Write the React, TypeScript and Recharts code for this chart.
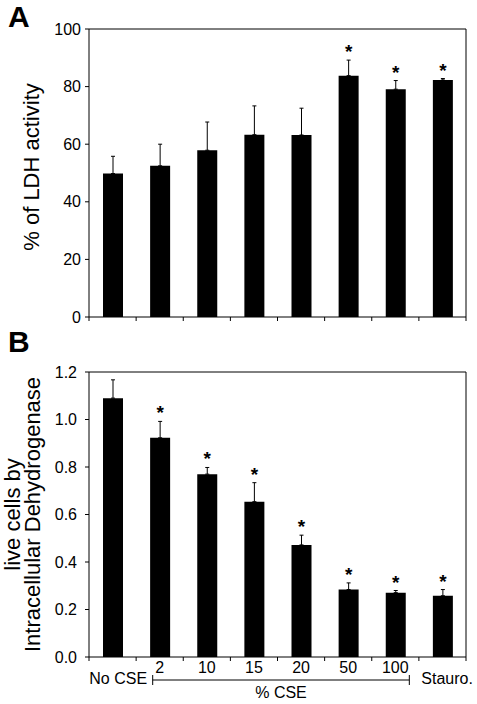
import { BarChart, Bar, XAxis, YAxis, CartesianGrid, ErrorBar, LabelList, Label } from 'recharts'

const FONT = '"Liberation Sans", Arial, Helvetica, sans-serif'

// shared categories (bottom axis of panel B)
const groups = ['No CSE', '2', '10', '15', '20', '50', '100', 'Stauro.']
const doseTitle = '% CSE'

// panel A: LDH release
const ldhMean = [49.8, 52.5, 57.9, 63.3, 63.2, 83.8, 79.1, 82.3]
const ldhErr = [6.0, 7.5, 9.8, 10.0, 9.3, 5.4, 3.0, 0.5]
const ldhSig = [false, false, false, false, false, true, true, true]
const ldhTicks = [0, 20, 40, 60, 80, 100]

// panel B: live cells
const liveMean = [1.09, 0.923, 0.77, 0.654, 0.472, 0.284, 0.271, 0.258]
const liveErr = [0.077, 0.069, 0.028, 0.08, 0.041, 0.028, 0.009, 0.026]
const liveSig = [false, true, true, true, true, true, true, true]
const liveTicks = [0, 0.2, 0.4, 0.6, 0.8, 1.0, 1.2]

const buildRows = (mean: number[], err: number[], sig: boolean[]) =>
  groups.map((name, i) => ({
    name,
    value: mean[i],
    range: [0, err[i]],
    err: err[i],
    sig: sig[i],
  }))

const ldhData = buildRows(ldhMean, ldhErr, ldhSig)
const liveData = buildRows(liveMean, liveErr, liveSig)

// tick marks sit on the category boundaries, labels on the centres
function BandTick(props: any) {
  const { x, y, index, width, visibleTicksCount, payload, showLabels } = props
  const band = width / visibleTicksCount
  const half = band / 2
  const last = index === visibleTicksCount - 1
  return (
    <g>
      <line x1={x - half} x2={x - half} y1={y} y2={y + 4} stroke="#000" />
      {last && <line x1={x + half} x2={x + half} y1={y} y2={y + 4} stroke="#000" />}
      {showLabels && index > 0 && !last && (
        <text x={x} y={y + 16} textAnchor="middle" fontSize={16} fill="#000">
          {payload.value}
        </text>
      )}
      {showLabels && index === 0 && (
        <text x={x + band - 12.6} y={y + 27} textAnchor="end" fontSize={16} fill="#000">
          {payload.value}
        </text>
      )}
      {showLabels && last && (
        <text x={x - band + 26} y={y + 27} textAnchor="start" fontSize={16} fill="#000">
          {payload.value}
        </text>
      )}
      {showLabels && index === 1 && (
        <g stroke="#000">
          <line x1={x - 7} x2={x + 5 * band + 14} y1={y + 23} y2={y + 23} />
          <line x1={x - 7} x2={x - 7} y1={y + 18} y2={y + 28} />
          <line x1={x + 5 * band + 14} x2={x + 5 * band + 14} y1={y + 18} y2={y + 28} />
          <text x={x + (5 * band + 7) / 2} y={y + 41} textAnchor="middle" fontSize={16} fill="#000" stroke="none">
            {doseTitle}
          </text>
        </g>
      )}
    </g>
  )
}

function AxisTitle({ viewBox, lines, xs, dy = 0 }: any) {
  const cy = viewBox.y + viewBox.height / 2 + dy
  return (
    <g>
      {lines.map((t: string, i: number) => (
        <text
          key={t}
          x={xs[i]}
          y={cy}
          transform={`rotate(-90 ${xs[i]} ${cy})`}
          textAnchor="middle"
          fontSize={22}
          fill="#000"
        >
          {t}
        </text>
      ))}
    </g>
  )
}

// asterisk above the error bar of significant groups
function Star(props: any, data: any[]) {
  const { x, y, width, height, index } = props
  const row = data[index]
  if (!row || !row.sig) return null
  const errPx = (row.err / row.value) * height
  return (
    <text x={x + width / 2} y={y - errPx - 2} textAnchor="middle" fontSize={19} fontWeight="bold" fill="#000">
      *
    </text>
  )
}

const frameTop = (p: any) => [p?.offset?.top ?? 0]
const frameRight = (p: any) => [(p?.offset?.left ?? 0) + (p?.offset?.width ?? 0)]

export default function App() {
  return (
    <div style={{ position: 'absolute', left: 0, top: 0, width: 477, height: 704, background: '#fff', fontFamily: FONT }}>
      <div style={{ position: 'absolute', left: 0, top: 0 }}>
        <BarChart
          width={477}
          height={330}
          data={ldhData}
          margin={{ top: 29, right: 11, left: 0, bottom: 0 }}
          style={{ fontFamily: FONT }}
        >
          <CartesianGrid
            stroke="#000"
            horizontalCoordinatesGenerator={frameTop}
            verticalCoordinatesGenerator={frameRight}
          />
          <XAxis
            dataKey="name"
            height={13}
            interval={0}
            tickSize={0}
            tickMargin={0}
            tickLine={false}
            axisLine={{ stroke: '#000' }}
            tick={(p: any) => <BandTick {...p} showLabels={false} />}
          />
          <YAxis
            width={89}
            domain={[0, 100]}
            ticks={ldhTicks}
            interval={0}
            tickSize={4}
            tickMargin={4}
            axisLine={{ stroke: '#000' }}
            tickLine={{ stroke: '#000' }}
            tick={{ fill: '#000', fontSize: 16 }}
          >
            <Label content={(p: any) => <AxisTitle viewBox={p.viewBox} lines={['% of LDH activity']} xs={[39]} dy={-6} />} />
          </YAxis>
          <Bar dataKey="value" fill="#000" barSize={20} isAnimationActive={false}>
            <ErrorBar dataKey="range" width={2} stroke="#000" strokeWidth={1} direction="y" />
            <LabelList dataKey="value" content={(p: any) => Star(p, ldhData)} />
          </Bar>
        </BarChart>
      </div>

      <div style={{ position: 'absolute', left: 0, top: 330 }}>
        <BarChart
          width={477}
          height={374}
          data={liveData}
          margin={{ top: 42, right: 11, left: 0, bottom: 0 }}
          style={{ fontFamily: FONT }}
        >
          <CartesianGrid
            stroke="#000"
            horizontalCoordinatesGenerator={frameTop}
            verticalCoordinatesGenerator={frameRight}
          />
          <XAxis
            dataKey="name"
            height={47}
            interval={0}
            tickSize={0}
            tickMargin={0}
            tickLine={false}
            axisLine={{ stroke: '#000' }}
            tick={(p: any) => <BandTick {...p} showLabels />}
          />
          <YAxis
            width={89}
            domain={[0, 1.2]}
            ticks={liveTicks}
            interval={0}
            tickSize={4}
            tickMargin={8}
            tickFormatter={(v: number) => v.toFixed(1)}
            axisLine={{ stroke: '#000' }}
            tickLine={{ stroke: '#000' }}
            tick={{ fill: '#000', fontSize: 16 }}
          >
            <Label
              content={(p: any) => (
                <AxisTitle viewBox={p.viewBox} lines={['live cells by', 'Intracellular Dehydrogenase']} xs={[20, 40]} />
              )}
            />
          </YAxis>
          <Bar dataKey="value" fill="#000" barSize={20} isAnimationActive={false}>
            <ErrorBar dataKey="range" width={2} stroke="#000" strokeWidth={1} direction="y" />
            <LabelList dataKey="value" content={(p: any) => Star(p, liveData)} />
          </Bar>
        </BarChart>
      </div>

      <svg width={477} height={704} style={{ position: 'absolute', left: 0, top: 0, pointerEvents: 'none' }}>
        <text x={8} y={27} fontSize={30} fontWeight="bold" fill="#000" fontFamily={FONT}>A</text>
        <text x={8} y={352} fontSize={30} fontWeight="bold" fill="#000" fontFamily={FONT}>B</text>
      </svg>
    </div>
  )
}
